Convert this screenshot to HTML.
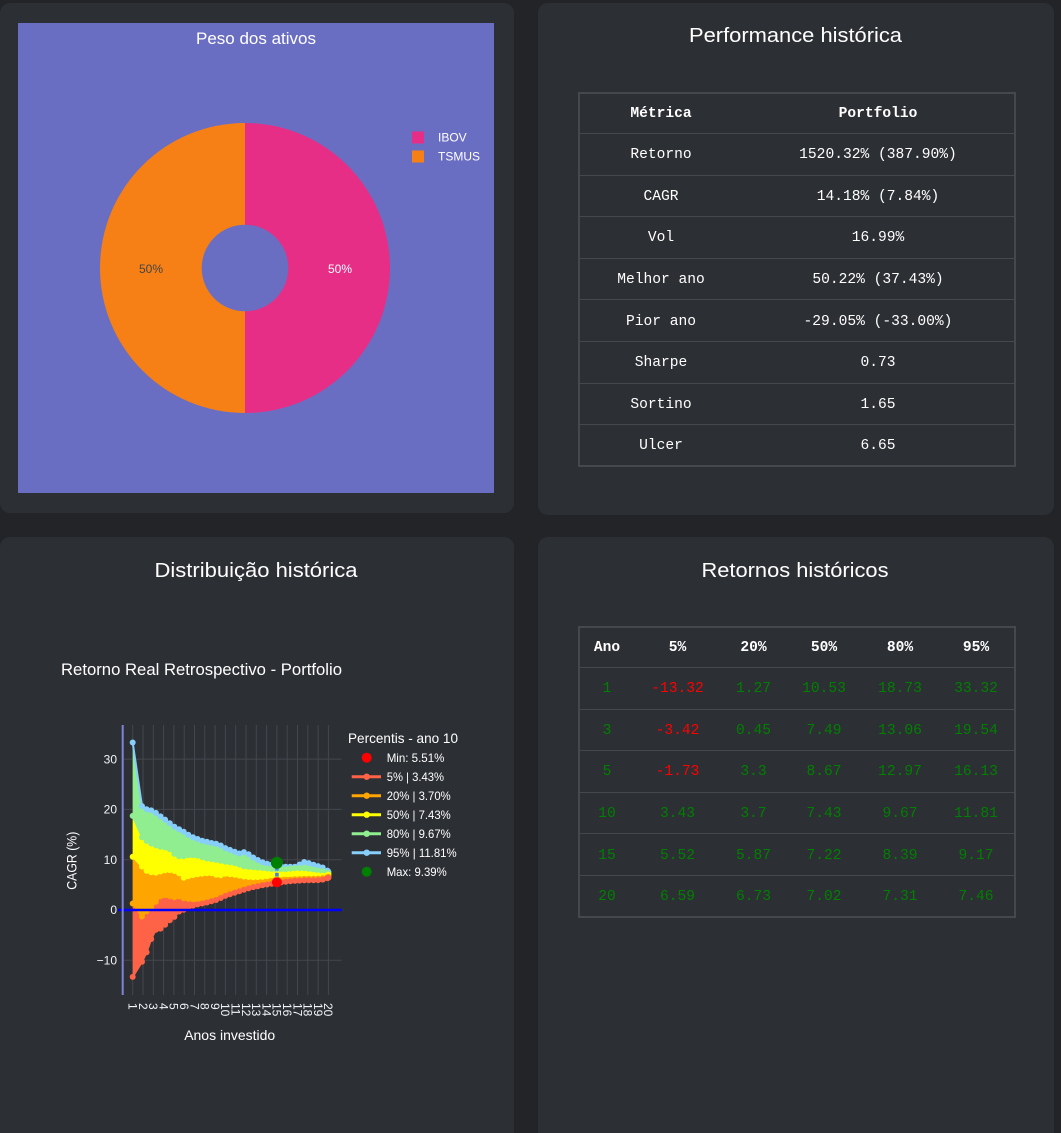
<!DOCTYPE html>
<html><head><meta charset="utf-8">
<style>
html{margin:0;padding:0;width:1061px;height:1133px;overflow:hidden;}
body{margin:0;padding:0;width:1061px;height:1133px;overflow:hidden;background:#222428;position:relative;font-family:"Liberation Sans",sans-serif;}
.card{position:absolute;background:#2c2f34;border-radius:10px;}
table{position:absolute;border-collapse:collapse;font-family:"Liberation Mono",monospace;font-size:14.6px;color:#fff;table-layout:fixed;border:2px solid #45484d;}
td,th{border:none;border-top:1px solid #45484d;border-bottom:1px solid #45484d;text-align:center;padding:2px 0 0 0;white-space:nowrap;}
th{font-weight:bold;}
.t1 tr,.t2 tr{height:41.6px;}
.t1 tr.h,.t2 tr.h{height:41px;}
.g{color:#008000;}
.r{color:#ff0000;}
svg{position:absolute;left:0;top:0;}
</style></head>
<body>
<div class="card" style="left:0;top:3px;width:514px;height:510px"></div>
<div class="card" style="left:538px;top:3px;width:516px;height:512px"></div>
<div class="card" style="left:0;top:537px;width:514px;height:596px;border-bottom-left-radius:0;border-bottom-right-radius:0"></div>
<div class="card" style="left:538px;top:537px;width:516px;height:596px;border-bottom-left-radius:0;border-bottom-right-radius:0"></div>

<table class="t1" style="left:578px;top:91.5px;width:436px">
<colgroup><col style="width:163px"><col style="width:273px"></colgroup>
<tr class="h"><th>Métrica</th><th>Portfolio</th></tr>
<tr><td>Retorno</td><td>1520.32% (387.90%)</td></tr>
<tr><td>CAGR</td><td>14.18% (7.84%)</td></tr>
<tr><td>Vol</td><td>16.99%</td></tr>
<tr><td>Melhor ano</td><td>50.22% (37.43%)</td></tr>
<tr><td>Pior ano</td><td>-29.05% (-33.00%)</td></tr>
<tr><td>Sharpe</td><td>0.73</td></tr>
<tr><td>Sortino</td><td>1.65</td></tr>
<tr><td>Ulcer</td><td>6.65</td></tr>
</table>

<table class="t2" style="left:578px;top:625.5px;width:436px">
<colgroup><col style="width:55px"><col style="width:87px"><col style="width:65px"><col style="width:76px"><col style="width:76px"><col style="width:77px"></colgroup>
<tr class="h"><th>Ano</th><th>5%</th><th>20%</th><th>50%</th><th>80%</th><th>95%</th></tr>
<tr class="g"><td>1</td><td class="r">-13.32</td><td>1.27</td><td>10.53</td><td>18.73</td><td>33.32</td></tr>
<tr class="g"><td>3</td><td class="r">-3.42</td><td>0.45</td><td>7.49</td><td>13.06</td><td>19.54</td></tr>
<tr class="g"><td>5</td><td class="r">-1.73</td><td>3.3</td><td>8.67</td><td>12.97</td><td>16.13</td></tr>
<tr class="g"><td>10</td><td>3.43</td><td>3.7</td><td>7.43</td><td>9.67</td><td>11.81</td></tr>
<tr class="g"><td>15</td><td>5.52</td><td>5.87</td><td>7.22</td><td>8.39</td><td>9.17</td></tr>
<tr class="g"><td>20</td><td>6.59</td><td>6.73</td><td>7.02</td><td>7.31</td><td>7.46</td></tr>
</table>

<svg id="page" width="1061" height="1133" xmlns="http://www.w3.org/2000/svg" font-family="'Liberation Sans', 'DejaVu Sans', sans-serif">
<defs><clipPath id="pc"><rect x="122.7" y="725" width="219" height="270"/></clipPath></defs>
<rect x="18" y="23" width="476" height="470" fill="#6a6ec2"/>
<text x="256" y="44" text-anchor="middle" font-size="17" fill="#fff">Peso dos ativos</text>
<path d="M245,123 A145,145 0 0 1 245,413 L245,311.3 A43.3,43.3 0 0 0 245,224.7 Z" fill="#e72e87"/>
<path d="M245,413 A145,145 0 0 1 245,123 L245,224.7 A43.3,43.3 0 0 0 245,311.3 Z" fill="#f68016"/>
<text x="340" y="273" text-anchor="middle" font-size="12" fill="#fff">50%</text>
<text x="151" y="273" text-anchor="middle" font-size="12" fill="#444">50%</text>
<rect x="412" y="131.5" width="12" height="12" fill="#e72e87"/>
<rect x="412" y="150.5" width="12" height="12" fill="#f68016"/>
<text x="438" y="141.5" font-size="12" fill="#fff">IBOV</text>
<text x="438" y="160.5" font-size="12" fill="#fff">TSMUS</text>

<text x="795.5" y="42" text-anchor="middle" font-size="20" fill="#fff" textLength="213" lengthAdjust="spacingAndGlyphs">Performance histórica</text>
<text x="256" y="577" text-anchor="middle" font-size="20" fill="#fff" textLength="203" lengthAdjust="spacingAndGlyphs">Distribuição histórica</text>
<text x="795" y="577" text-anchor="middle" font-size="20" fill="#fff" textLength="187" lengthAdjust="spacingAndGlyphs">Retornos históricos</text>

<text x="61" y="675" font-size="17" fill="#fff" textLength="281" lengthAdjust="spacingAndGlyphs">Retorno Real Retrospectivo - Portfolio</text>

<text transform="translate(76.5,860.7) rotate(-90)" text-anchor="middle" font-size="14" fill="#fff" textLength="58" lengthAdjust="spacingAndGlyphs">CAGR (%)</text>
<text x="229.7" y="1040" text-anchor="middle" font-size="14" fill="#fff" textLength="91" lengthAdjust="spacingAndGlyphs">Anos investido</text>

<g id="chart"></g>
</svg>

<script>
(function(){
const NS='http://www.w3.org/2000/svg';
const root=document.getElementById('chart');
function el(tag,attrs,parent,text){const e=document.createElementNS(NS,tag);for(const k in attrs)e.setAttribute(k,attrs[k]);if(text!=null)e.textContent=text;(parent||root).appendChild(e);return e;}
const X=t=>132.7+(t-1)*10.3, Y=v=>910-v*5.03;
const grid=el('g',{stroke:'#44474d','stroke-width':1});
for(let t=1;t<=20;t++) el('line',{x1:X(t),x2:X(t),y1:725,y2:995},grid);
[-10,10,20,30].forEach(v=>el('line',{x1:122.7,x2:341.7,y1:Y(v),y2:Y(v)},grid));
const data={
p95:[[1,33.3],[1.87,20.7],[2.36,20.0],[3.0,19.7],[3.5,18.9],[4.2,17.9],[5.0,16.6],[5.9,15.6],[6.7,14.6],[7.7,13.8],[8.7,13.3],[9.3,13.1],[10,12.3],[10.9,11.6],[11.4,11.2],[11.9,11.6],[12.8,10.3],[13.8,9.3],[14.8,8.9],[15.8,8.6],[16.8,8.6],[17.7,9.6],[18.7,8.9],[19.7,8.3],[20,7.6]],
p80:[[1,18.7],[1.6,15.0],[2.2,13.9],[3.0,13.0],[3.6,12.6],[4.5,12.3],[5.0,11.2],[5.7,10.5],[6.3,10.9],[7.2,10.9],[8.0,10.3],[9.0,10.0],[10,9.6],[11,9.3],[11.9,8.6],[12.8,8.5],[13.8,8.3],[14.8,8.1],[15.8,8.1],[16.8,8.3],[17.8,8.3],[18.8,7.9],[19.7,7.6],[20,7.3]],
p50:[[1,10.6],[1.6,9.3],[2.3,7.8],[3.1,7.3],[3.6,7.6],[4.4,8.0],[5.0,7.8],[5.5,7.3],[6.0,6.3],[6.5,6.8],[7,7.0],[8,7.3],[8.7,7.3],[9.4,6.8],[10,7.2],[11,7.0],[11.9,6.6],[12.8,6.5],[13.8,6.6],[14.8,7.0],[15.8,7.0],[16.8,7.0],[17.8,7.1],[18.8,6.9],[19.7,6.8],[20,7.0]],
p20:[[1,1.3],[1.5,-0.5],[1.9,-1.3],[2.3,-0.3],[2.8,0.4],[3.3,1.8],[3.7,2.7],[4.3,3.0],[4.9,2.5],[5.5,2.7],[6.1,2.2],[6.7,2.2],[7.5,1.8],[8.3,2.0],[9.1,2.5],[10,3.5],[11,3.9],[11.9,4.6],[12.8,5.0],[13.8,5.3],[14.8,5.7],[15.8,6.0],[16.8,6.1],[17.8,6.2],[18.8,6.2],[19.7,6.4],[20,6.6]],
p5:[[1,-13.3],[2.2,-9.3],[3.1,-4.0],[3.9,-3.6],[4.4,-2.3],[5.0,-1.5],[5.5,-0.3],[6,0.1],[7,1.0],[8,1.4],[9,1.9],[10,2.8],[11,3.5],[11.9,4.1],[12.8,4.6],[13.8,5.0],[14.8,5.3],[15.8,5.6],[16.8,5.8],[17.8,5.9],[18.8,5.9],[19.7,6.1],[20,6.4]]
};
function interp(a,t){for(let i=0;i<a.length-1;i++){if(t<=a[i+1][0]){const x0=a[i][0],y0=a[i][1],x1=a[i+1][0],y1=a[i+1][1];return y0+(y1-y0)*(t-x0)/(x1-x0);}}return a[a.length-1][1];}
const ts=[1];for(let t=1.9;t<19.9;t+=0.45)ts.push(t);ts.push(20);
const pts=k=>ts.map(t=>[X(t),Y(interp(data[k],t))]);
const str=a=>a.map(p=>p[0].toFixed(1)+','+p[1].toFixed(1)).join(' ');
const cg=el('g',{'clip-path':'url(#pc)'});
function band(up,lo,color){const a=pts(up),b=pts(lo).reverse();el('polygon',{points:str(a.concat(b)),fill:color},cg);}
const col={p95:'#87cefa',p80:'#90ee90',p50:'#ffff00',p20:'#ffa500',p5:'#ff6347'};
band('p95','p80',col.p80);band('p80','p50',col.p50);band('p50','p20',col.p20);band('p20','p5',col.p5);
['p95','p80','p50','p20','p5'].forEach(k=>{const a=pts(k);el('polyline',{points:str(a),fill:'none',stroke:col[k],'stroke-width':2},cg);a.forEach(p=>el('circle',{cx:p[0].toFixed(1),cy:p[1].toFixed(1),r:3,fill:col[k]},cg));});
el('line',{x1:118,x2:341.7,y1:910,y2:910,stroke:'#0000ff','stroke-width':2.5});
el('line',{x1:122.7,x2:122.7,y1:725,y2:995,stroke:'#7f83d8','stroke-width':2});
const x15=X(15);
el('line',{x1:x15,x2:x15,y1:Y(9.39),y2:Y(5.51),stroke:'#3b6fe0','stroke-width':2.5,'stroke-dasharray':'2,3'});
[8.2,7.0,5.9].forEach(v=>el('rect',{x:x15-1.8,y:Y(v)-1.8,width:3.6,height:3.6,fill:'#4a7fe8'}));
el('circle',{cx:x15,cy:Y(5.51),r:5,fill:'#ff0000'});
el('circle',{cx:x15,cy:Y(9.39),r:6,fill:'#008000'});
[30,20,10,0,-10].forEach(v=>el('text',{x:117,y:(Y(v)+4.2).toFixed(1),'text-anchor':'end','font-size':12,fill:'#f2f5fa'},root,v<0?'\u221210':String(v)));
for(let t=1;t<=20;t++) el('text',{transform:'translate('+X(t).toFixed(1)+',1003) rotate(90)',dy:'0.35em','font-size':12,fill:'#f2f5fa'},root,String(t));
el('text',{x:348,y:743,'font-size':14,fill:'#fff',textLength:110,lengthAdjust:'spacingAndGlyphs'},root,'Percentis - ano 10');
const items=[['c','#ff0000','Min: 5.51%',57.7],['l',col.p5,'5% | 3.43%',57.3],['l',col.p20,'20% | 3.70%',64],['l',col.p50,'50% | 7.43%',64],['l',col.p80,'80% | 9.67%',64],['l',col.p95,'95% | 11.81%',70],['c','#008000','Max: 9.39%',60]];
items.forEach((it,i)=>{const cy=757.7+19*i;
 if(it[0]==='c'){el('circle',{cx:366.7,cy:cy,r:5,fill:it[1]});}
 else{el('line',{x1:351.7,x2:381,y1:cy,y2:cy,stroke:it[1],'stroke-width':3});el('circle',{cx:366.7,cy:cy,r:3.2,fill:it[1]});}
 el('text',{x:386.7,y:(cy+4.3).toFixed(1),'font-size':12,fill:'#fff',textLength:it[3],lengthAdjust:'spacingAndGlyphs'},root,it[2]);
});
})();
</script>
</body></html>
